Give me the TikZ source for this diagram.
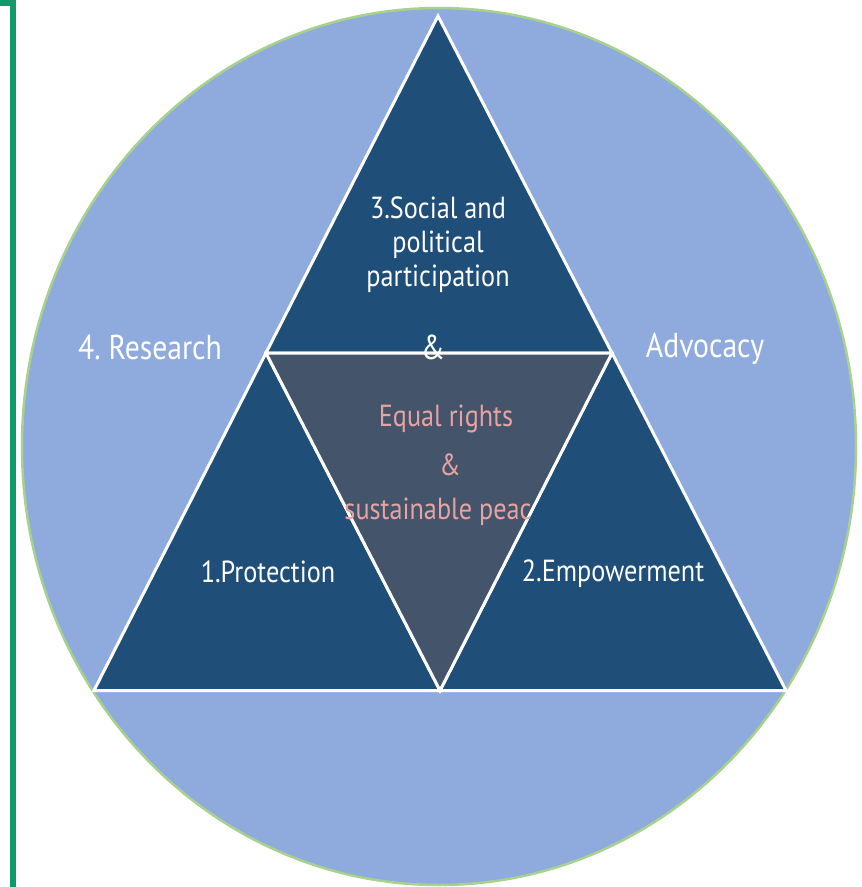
\documentclass[tikz,border=0pt]{standalone}
\usepackage{fontspec}
\setmainfont{PT Sans}[FakeStretch=0.86]
\definecolor{bracketgreen}{HTML}{0E9A6A}
\definecolor{ringgreen}{HTML}{A9D18E}
\definecolor{outerblue}{HTML}{8FAADC}
\definecolor{darkblue}{HTML}{1F4E79}
\definecolor{slate}{HTML}{44546A}
\definecolor{pinktext}{HTML}{E8A2A2}
\tikzset{
  lbl/.style={text=white, font=\fontsize{30.5}{34}\selectfont, align=center, inner sep=0pt},
  biglbl/.style={text=white, font=\fontsize{34.5}{40}\selectfont, align=center, inner sep=0pt},
  pinklbl/.style={text=pinktext, font=\fontsize{30.5}{34}\selectfont, align=center, inner sep=0pt},
  tri/.style={fill=darkblue, draw=white, line width=3pt, line join=miter},
  innertri/.style={fill=slate, draw=white, line width=3pt, line join=miter},
  ring/.style={fill=outerblue, draw=ringgreen, line width=2.5pt}
}
\begin{document}
\begin{tikzpicture}[x=1pt,y=-1pt]
\useasboundingbox (0,0) rectangle (862,887);
% left bracket
\draw[bracketgreen, line width=6pt] (0,2.5) -- (13,2.5) -- (13,887);
% outer ellipse
\draw[ring] (439,446.5) ellipse [x radius=417, y radius=438.5];
% triangle vertices
\coordinate (T) at (438,16);
\coordinate (BL) at (94,690.5);
\coordinate (BR) at (786,690.5);
\coordinate (ML) at (266,353);
\coordinate (MR) at (612,353);
\coordinate (MB) at (440,690.5);
% outer triangles
\draw[tri] (T) -- (MR) -- (ML) -- cycle;
\draw[tri] (ML) -- (MB) -- (BL) -- cycle;
\draw[tri] (MR) -- (BR) -- (MB) -- cycle;
\draw[innertri] (ML) -- (MR) -- (MB) -- cycle;
% labels
\node[lbl] (social) at (438,245) {3.Social and\\political\\participation};
\node[biglbl] (amp1) at (433,347) {\&};
\node[biglbl] (research) at (150,347) {4.~Research};
\node[biglbl] (advocacy) at (705,349) {Advocacy};
\node[pinklbl] (equal) at (446,419) {Equal rights};
\node[pinklbl] (amp2) at (450,465) {\&};
\node[pinklbl] (peace) at (438,512) {sustainable peac};
\node[lbl] (protection) at (268,572) {1.Protection};
\node[lbl] (empower) at (613,574) {2.Empowerment};
\end{tikzpicture}
\end{document}
